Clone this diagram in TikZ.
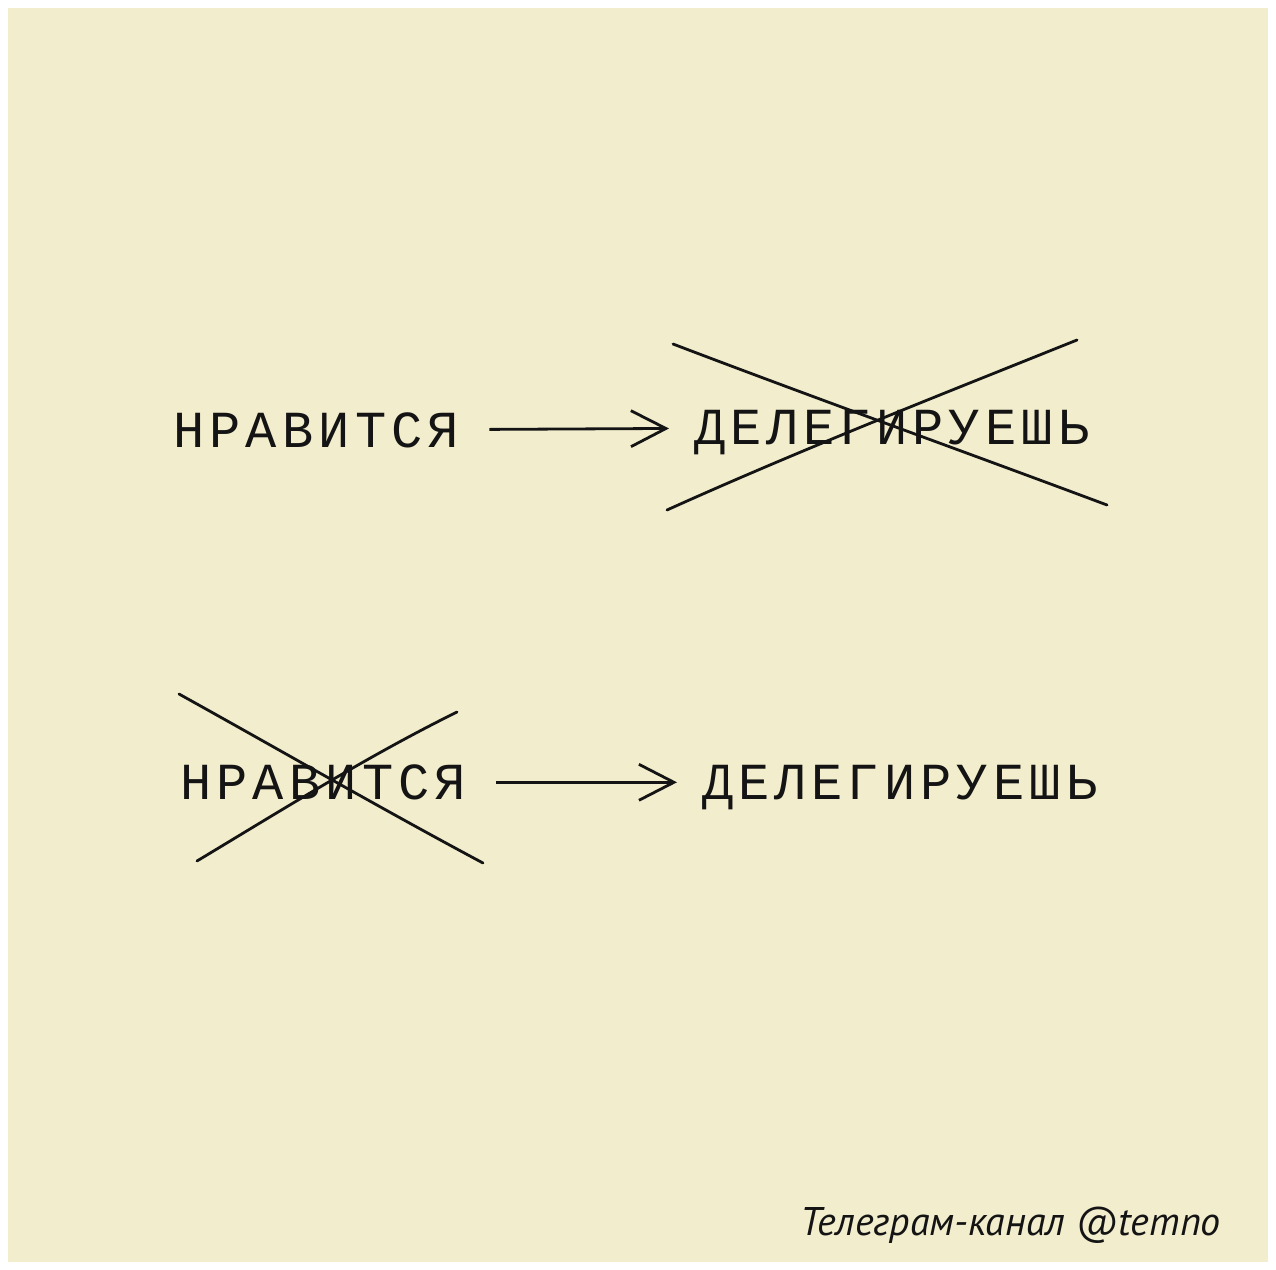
\documentclass[tikz,border=0pt]{standalone}
\usepackage{fontspec}
\newfontfamily\handfont{Liberation Mono}[LetterSpace=10]
\newfontfamily\capfont{PT Sans}
\usetikzlibrary{positioning, arrows.meta}
\definecolor{paper}{RGB}{242,237,205}
\definecolor{ink}{RGB}{20,20,20}

\begin{document}
\begin{tikzpicture}[
    x=1pt, y=-1pt,
    word/.style={inner sep=0pt, anchor=south west, text=ink, text height=35pt, text depth=0pt, font=\handfont\fontsize{52}{52}\selectfont},
    arrow/.style={-{Straight Barb[length=35pt, width=36pt]}, draw=ink, line width=2.8pt, shorten <=30pt, shorten >=25pt},
    cross/.style={draw=ink, line width=2.8pt, line cap=round},
    signature/.style={font=\capfont\itshape\fontsize{40}{48}\selectfont, text=ink, inner sep=0pt}
]

% --- Fondo
\useasboundingbox (0,0) rectangle (1276,1269);
\fill[white] (0,0) rectangle (1276,1269);
\fill[paper] (8,8) rectangle (1268,1262);

% --- Palabras
\node[word] (like1) at (173,448) {НРАВИТСЯ};
\node[word] (deleg1) at (694,445) {ДЕЛЕГИРУЕШЬ};
\node[word] (like2) at (180,800) {НРАВИТСЯ};
\node[word] (deleg2) at (702,800) {ДЕЛЕГИРУЕШЬ};

% --- Flechas
\draw[arrow] (like1) -- (deleg1);
\draw[arrow] (like2) -- (deleg2);

% Cruz sobre la palabra de la derecha (fila 1)
\draw[cross] (673,344) .. controls (820,400) and (960,450) .. (1107,505);
\draw[cross] (667,510) .. controls (800,450) and (940,395) .. (1077,340);

% Cruz sobre la palabra de la izquierda (fila 2)
\draw[cross] (179,694) .. controls (280,750) and (380,808) .. (483,863);
\draw[cross] (197,861) .. controls (290,805) and (370,755) .. (457,712);

% --- Firma
\node[signature, anchor=base east] (channel) at (1221,1235) {Телеграм-канал @temno};

\end{tikzpicture}
\end{document}
